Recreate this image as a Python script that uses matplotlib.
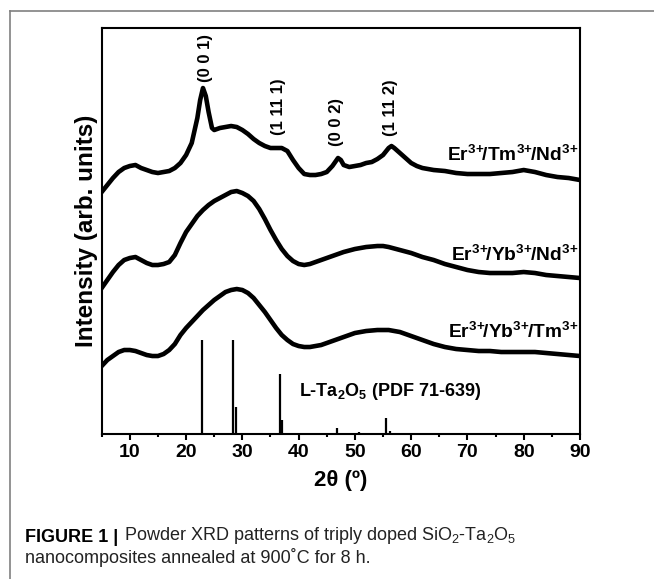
import matplotlib
matplotlib.use("Agg")
import matplotlib.pyplot as plt
from matplotlib.lines import Line2D
from matplotlib.ticker import MultipleLocator

plt.rcParams['font.family'] = ['Liberation Sans', 'DejaVu Sans']
plt.rcParams['mathtext.fontset'] = 'custom'
plt.rcParams['mathtext.rm'] = 'Liberation Sans'
plt.rcParams['mathtext.bf'] = 'Liberation Sans:bold'
plt.rcParams['mathtext.default'] = 'bf'

# 2theta (deg) and intensity (arb. units, offset stacked)
theta_tm = [5, 6, 7, 8, 9, 10, 11, 12, 13, 14, 15, 16, 17, 18, 19, 20, 21, 22, 22.5, 23,
            23.5, 24, 24.6, 25, 26, 27, 28, 29, 30, 31, 32, 33, 34, 35, 36, 37, 38, 39, 40,
            41, 42, 43, 44, 45, 46, 47, 47.5, 48, 49, 50, 51, 52, 53, 54, 55, 56, 56.5, 57,
            58, 59, 60, 61, 62, 64, 66, 68, 70, 72, 74, 76, 78, 80, 82, 84, 86, 88, 90]
int_tm = [242, 249, 256, 262, 266, 268, 269, 266, 264, 262, 261, 262, 263, 266, 271, 279,
          291, 316, 334, 346, 338, 322, 306, 304, 306, 307, 308, 307, 304, 300, 295, 291,
          288, 286, 286, 286, 283, 274, 266, 260, 259, 259, 260, 262, 268, 276, 274, 269,
          267, 268, 269, 271, 272, 275, 279, 286, 288, 286, 281, 276, 271, 268, 266, 264,
          263, 261, 260, 260, 260, 261, 262, 264, 262, 259, 257, 256, 254]

theta_nd = [5, 6, 7, 8, 9, 10, 11, 12, 13, 14, 15, 16, 17, 18, 19, 20, 21, 22, 23, 24, 25,
            26, 27, 28, 29, 30, 31, 32, 33, 34, 35, 36, 37, 38, 39, 40, 41, 42, 43, 44, 45,
            46, 47, 48, 50, 52, 54, 55, 56, 58, 60, 62, 64, 66, 68, 70, 72, 74, 76, 78, 80,
            82, 84, 86, 88, 90]
int_nd = [146, 154, 162, 169, 174, 176, 177, 174, 171, 169, 169, 170, 172, 179, 191, 202,
          210, 218, 224, 229, 233, 236, 239, 242, 243, 241, 238, 233, 225, 215, 204, 194,
          185, 178, 173, 170, 169, 170, 172, 174, 176, 178, 180, 182, 185, 187, 188, 188,
          187, 184, 181, 177, 174, 170, 167, 164, 162, 161, 161, 161, 162, 161, 159, 158,
          157, 156]

theta_yb = [5, 6, 7, 8, 9, 10, 11, 12, 13, 14, 15, 16, 17, 18, 19, 20, 21, 22, 23, 24, 25,
            26, 27, 28, 29, 30, 31, 32, 33, 34, 35, 36, 37, 38, 39, 40, 41, 42, 43, 44, 45,
            46, 47, 48, 50, 52, 54, 55, 56, 58, 60, 62, 64, 66, 68, 70, 72, 74, 76, 78, 80,
            82, 84, 86, 88, 90]
int_yb = [68, 74, 78, 82, 84, 84, 83, 81, 79, 78, 78, 80, 84, 90, 99, 106, 112, 118, 124,
          129, 134, 138, 142, 144, 145, 144, 141, 136, 129, 122, 114, 106, 99, 94, 90, 88,
          87, 87, 88, 89, 91, 93, 95, 97, 101, 103, 104, 104, 104, 102, 98, 94, 90, 87, 85,
          84, 83, 83, 82, 82, 82, 82, 81, 80, 79, 78]

# L-Ta2O5 reference lines (PDF 71-639)
ref_pos = [22.9, 28.3, 28.9, 36.7, 37.1, 46.8, 49.8, 50.7, 55.5, 56.2]
ref_int = [94, 94, 27, 60, 14, 6, 1.5, 2, 16, 3]

sup = r'$^{3\!+\!\!}$'
curve_labels = ['Er' + sup + '/Tm' + sup + '/Nd' + sup,
                'Er' + sup + '/Yb' + sup + '/Nd' + sup,
                'Er' + sup + '/Yb' + sup + '/Tm' + sup]
hkl_labels = ['(0 0 1)', '(1 11 1)', '(0 0 2)', '(1 11 2)']
hkl_pos = [23.4, 36.5, 46.8, 56.4]

fig = plt.figure(figsize=(6.54, 5.79), dpi=100)
ax = fig.add_axes([0.1555, 0.2504, 0.7313, 0.7007])

for th, it in [(theta_tm, int_tm), (theta_nd, int_nd), (theta_yb, int_yb)]:
    ax.plot(th, it, color='black', lw=3.3, solid_joinstyle='round')

ax.vlines(ref_pos, 0, ref_int, color='black', lw=1.6)

ax.set_xlim(5, 90)
ax.set_ylim(0, 405.7)
ax.xaxis.set_major_locator(MultipleLocator(10))
ax.xaxis.set_minor_locator(MultipleLocator(5))
ax.set_xticks(range(10, 91, 10))
ax.set_yticks([])
ax.tick_params(axis='x', which='major', direction='out', length=4.5, width=1.5,
               labelsize=14, pad=3)
ax.tick_params(axis='x', which='minor', direction='out', length=2.2, width=1.5)
for lab in ax.get_xticklabels():
    lab.set_fontweight('bold')
for sp in ax.spines.values():
    sp.set_linewidth(1.5)

ax.set_xlabel('2θ (º)', fontsize=16, fontweight='bold', labelpad=6)
ax.set_ylabel('Intensity (arb. units)', fontsize=17.5, fontweight='bold', labelpad=3)

# curve labels
label_y = [279, 179, 102]
for txt, yy in zip(curve_labels, label_y):
    ax.text(89.7, yy, txt, ha='right', va='center', fontsize=13.8, fontweight='bold')

# hkl labels
hkl_y = [376, 327, 312, 326]
for txt, xx, yy in zip(hkl_labels, hkl_pos, hkl_y):
    ax.text(xx, yy, txt, rotation=90, ha='center', va='center', fontsize=12,
            fontweight='bold')

ax.text(40.0, 42.5, r'L-Ta$_2$O$_5$ (PDF 71-639)', ha='left', va='center', fontsize=13,
        fontweight='bold')

# page frame around the figure
fig.add_artist(Line2D([9.5 / 654, 1], [1 - 10.5 / 579, 1 - 10.5 / 579],
                      transform=fig.transFigure, color='#808080', lw=1.2))
fig.add_artist(Line2D([9.5 / 654, 9.5 / 654], [0, 1 - 10.5 / 579],
                      transform=fig.transFigure, color='#808080', lw=1.2))

# caption
head = fig.text(0.038, 1 - 542 / 579, 'FIGURE 1 |', fontsize=13, fontweight='bold',
                va='baseline', ha='left')
ax.annotate(r'Powder XRD patterns of triply doped SiO$_\mathrm{2}$-Ta$_\mathrm{2}$O$_\mathrm{5}$',
            xy=(1, 0), xycoords=head, xytext=(4, 0), textcoords='offset points',
            ha='left', va='bottom', fontsize=13, color='#222222', annotation_clip=False)
fig.text(0.038, 1 - 563 / 579, 'nanocomposites annealed at 900˚C for 8 h.',
         fontsize=13, va='baseline', ha='left', color='#222222')

fig.savefig('out.png', dpi=100)
